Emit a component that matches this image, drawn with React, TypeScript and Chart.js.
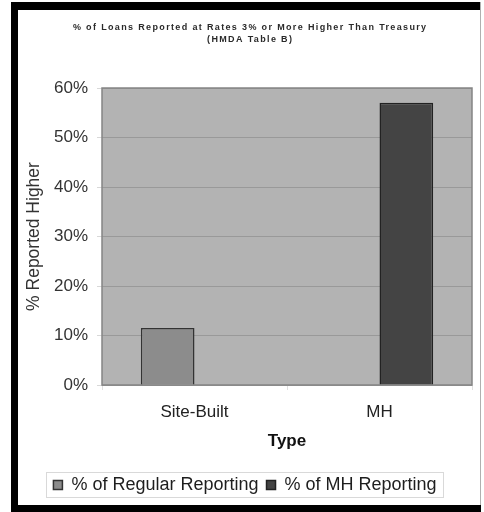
import React, { useEffect, useRef } from "react";
import { Chart, registerables } from "chart.js";

Chart.register(...registerables);

const categories = ["Site-Built", "MH"];
const seriesNames = ["% of Regular Reporting", "% of MH Reporting"];
const regularValues = [11.5, null];
const mhValues = [null, 57.0];
const titleLines = [
  "% of Loans Reported at Rates 3% or More Higher Than Treasury",
  "(HMDA Table B)",
];
const yTitle = "% Reported Higher";
const xTitle = "Type";

const framePlugin = {
  id: "frame",
  beforeDraw(chart: any) {
    const { ctx, chartArea } = chart;
    ctx.save();
    ctx.fillStyle = "#ffffff";
    ctx.fillRect(0, 0, chart.width, chart.height);
    ctx.fillStyle = "#000000";
    ctx.fillRect(11, 2, 7, 510);
    ctx.fillRect(11, 2, 469, 8);
    ctx.fillRect(11, 505, 470, 7);
    ctx.fillStyle = "#b0b0b0";
    ctx.fillRect(480, 2, 1, 503);
    ctx.fillStyle = "#b3b3b3";
    ctx.fillRect(
      chartArea.left,
      chartArea.top,
      chartArea.right - chartArea.left,
      chartArea.bottom - chartArea.top
    );
    ctx.restore();
  },
  beforeDatasetsDraw(chart: any) {
    const { ctx, chartArea } = chart;
    ctx.save();
    ctx.strokeStyle = "#858585";
    ctx.lineWidth = 1.5;
    ctx.strokeRect(
      chartArea.left,
      chartArea.top,
      chartArea.right - chartArea.left,
      chartArea.bottom - chartArea.top
    );
    ctx.restore();
  },
  afterDraw(chart: any) {
    const { ctx } = chart;
    ctx.save();
    ctx.fillStyle = "#2a2a2a";
    ctx.textAlign = "left";
    ctx.textBaseline = "middle";
    ctx.font = "bold 9px 'Liberation Sans', Arial, sans-serif";
    const cx = 249.5;
    const ys = [28, 40];
    const spacing = 1.35;
    titleLines.forEach((line, i) => {
      (ctx as any).letterSpacing = spacing + "px";
      const w = ctx.measureText(line).width - spacing;
      ctx.fillText(line, cx - w / 2, ys[i]);
    });
    (ctx as any).letterSpacing = "0px";
    const legend = chart.legend;
    if (legend && legend.legendHitBoxes && legend.legendHitBoxes.length) {
      const boxes = legend.legendHitBoxes;
      const l = Math.min(...boxes.map((b: any) => b.left)) - 7;
      const r = Math.max(...boxes.map((b: any) => b.left + b.width)) + 7;
      const t = Math.min(...boxes.map((b: any) => b.top)) - 4;
      const bt = Math.max(...boxes.map((b: any) => b.top + b.height)) + 3;
      ctx.strokeStyle = "#d9d9d9";
      ctx.lineWidth = 1;
      ctx.strokeRect(Math.round(l) + 0.5, Math.round(t) + 0.5, Math.round(r - l), Math.round(bt - t));
    }
    ctx.restore();
  },
};

export default function App() {
  const ref = useRef<HTMLCanvasElement | null>(null);
  useEffect(() => {
    if (!ref.current) return;
    const font = "'Liberation Sans', Arial, sans-serif";
    const chart = new Chart(ref.current, {
      type: "bar",
      data: {
        labels: categories,
        datasets: [
          {
            label: seriesNames[0],
            data: regularValues,
            backgroundColor: "#8c8c8c",
            borderColor: "#333333",
            borderWidth: 1.5,
            categoryPercentage: 0.58,
            barPercentage: 1.0,
          },
          {
            label: seriesNames[1],
            data: mhValues,
            backgroundColor: "#444444",
            borderColor: "#222222",
            borderWidth: 1.5,
            categoryPercentage: 0.58,
            barPercentage: 1.0,
          },
        ] as any,
      },
      options: {
        responsive: false,
        animation: false,
        layout: { padding: { left: 18, right: 12, top: 88, bottom: 8 } },
        plugins: {
          title: { display: false },
          tooltip: { enabled: false },
          legend: {
            position: "bottom",
            labels: {
              font: { family: font, size: 18 },
              color: "#1e1e1e",
              boxWidth: 9,
              boxHeight: 9,
              padding: 8,
            },
          },
        },
        scales: {
          x: {
            grid: {
              offset: true,
              drawOnChartArea: false,
              drawTicks: true,
              tickLength: 5,
              tickColor: "#e0e0e0",
            },
            border: { display: false },
            ticks: {
              font: { family: font, size: 17 },
              color: "#222222",
              padding: 12,
            },
            title: {
              display: true,
              text: xTitle,
              font: { family: font, size: 17, weight: "bold" },
              color: "#111111",
              padding: { top: 0, bottom: 16 },
            },
            afterFit(scale: any) {
              scale.height = 83;
            },
          },
          y: {
            min: 0,
            max: 60,
            ticks: {
              stepSize: 10,
              font: { family: font, size: 17 },
              color: "#333333",
              padding: 9,
              callback: (v: any) => v + "%",
            },
            grid: {
              color: "#999999",
              tickColor: "#d8d8d8",
              tickLength: 5,
              lineWidth: 1,
            },
            border: { display: false },
            title: {
              display: true,
              text: yTitle,
              font: { family: font, size: 17.5 },
              color: "#333333",
              padding: { top: 6, bottom: 0 },
            },
            afterFit(scale: any) {
              scale.width = 84;
            },
          },
        },
      } as any,
      plugins: [framePlugin],
    });
    return () => chart.destroy();
  }, []);
  return (
    <div style={{ position: "fixed", left: 0, top: 0, width: 484, height: 512 }}>
      <canvas ref={ref} width={484} height={512} />
    </div>
  );
}
